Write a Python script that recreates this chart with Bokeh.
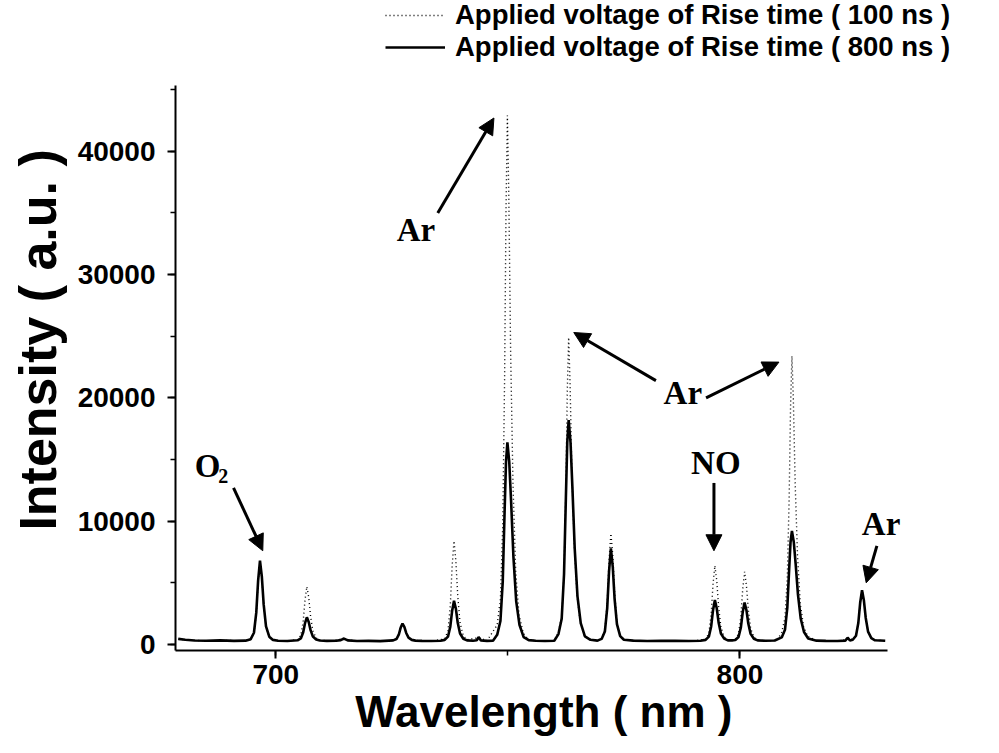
from bokeh.plotting import figure
from bokeh.models import (Range1d, SingleIntervalTicker, Label, Arrow, NormalHead,
                          Legend, LegendItem)
from bokeh.embed import file_html
from bokeh.resources import INLINE

# ---- data: (wavelength nm, intensity a.u.) ----
spec_800 = [
    (679.0, 450), (680.5, 380), (682.5, 320), (685.0, 300), (688.0, 330), (691.0, 290),
    (693.5, 310), (694.6, 430), (695.3, 950), (695.8, 2580), (696.2, 5180), (696.6, 6800),
    (697.0, 5500), (697.4, 3230), (697.9, 1470), (698.6, 630), (699.4, 370), (700.5, 300),
    (702.5, 280), (704.7, 340), (705.4, 490), (705.9, 970), (706.3, 1730), (706.7, 2200),
    (707.1, 1820), (707.5, 1160), (708.0, 640), (708.7, 400), (709.5, 320), (711.0, 290),
    (713.0, 300), (714.0, 350), (714.7, 480), (715.5, 330), (717.5, 280), (720.0, 290),
    (722.5, 270), (725.3, 330), (726.0, 440), (726.5, 790), (726.9, 1350), (727.3, 1700),
    (727.7, 1420), (728.1, 930), (728.6, 550), (729.3, 370), (730.1, 310), (731.5, 290),
    (733.5, 280), (735.5, 300), (736.4, 370), (737.1, 630), (737.6, 1440), (738.0, 2740),
    (738.4, 3550), (738.8, 2900), (739.2, 1760), (739.7, 890), (740.4, 460), (741.2, 330),
    (742.5, 300), (743.3, 340), (743.7, 600), (744.2, 330), (745.5, 290), (746.8, 310),
    (747.7, 780), (748.4, 1900), (748.9, 5100), (749.3, 10800), (749.6, 14800), (749.9, 16400),
    (750.3, 14800), (750.7, 11600), (751.2, 7100), (751.8, 3500), (752.5, 1600), (753.4, 600),
    (754.5, 350), (756.0, 300), (758.0, 280), (760.0, 300), (760.9, 840), (761.6, 2090),
    (762.1, 5670), (762.5, 11900), (762.8, 16400), (763.1, 18200), (763.5, 16400), (763.9, 12800),
    (764.4, 7800), (765.0, 3900), (765.7, 1730), (766.6, 660), (767.8, 380), (769.3, 310),
    (770.2, 450), (770.9, 1050), (771.4, 2930), (771.8, 5930), (772.2, 7800), (772.6, 6300),
    (773.0, 3680), (773.5, 1650), (774.2, 680), (775.0, 380), (777.0, 310), (780.0, 280),
    (783.0, 300), (786.0, 290), (789.0, 280), (791.5, 300), (792.6, 370), (793.3, 630),
    (793.8, 1460), (794.2, 2780), (794.6, 3600), (795.0, 2940), (795.4, 1790), (795.9, 890),
    (796.6, 470), (797.4, 330), (798.3, 330), (799.0, 360), (799.7, 610), (800.2, 1390),
    (800.6, 2630), (801.0, 3400), (801.4, 2780), (801.8, 1700), (802.3, 860), (803.0, 460),
    (803.8, 330), (805.5, 300), (807.5, 320), (809.0, 570), (809.7, 1190), (810.2, 2970),
    (810.6, 6090), (810.9, 8310), (811.2, 9200), (811.6, 8310), (812.0, 6530), (812.5, 4040),
    (813.1, 2080), (813.8, 1010), (814.7, 480), (816.5, 310), (818.5, 290), (821.0, 280),
    (822.7, 310), (823.2, 550), (823.7, 320), (824.3, 380), (825.0, 710), (825.5, 1740),
    (825.9, 3380), (826.3, 4400), (826.7, 3580), (827.1, 2150), (827.6, 1040), (828.3, 510),
    (829.1, 340), (830.2, 320), (831.3, 300),
]

spec_100 = [
    (679.0, 430), (681.0, 360), (684.0, 310), (687.0, 300), (690.0, 320), (693.0, 300),
    (694.6, 420), (695.3, 920), (695.8, 2500), (696.2, 5100), (696.6, 6700), (697.0, 5400),
    (697.4, 3150), (697.9, 1420), (698.6, 600), (699.4, 360), (701.0, 290), (703.0, 300),
    (704.7, 390), (705.4, 740), (705.9, 1840), (706.3, 3600), (706.7, 4700), (707.1, 3820),
    (707.5, 2280), (708.0, 1090), (708.7, 520), (709.5, 340), (712.0, 300), (714.7, 460),
    (717.0, 290), (721.0, 300), (724.0, 280), (725.3, 340), (726.0, 450), (726.5, 800),
    (726.9, 1380), (727.3, 1750), (727.7, 1450), (728.1, 950), (728.6, 560), (729.3, 370),
    (731.0, 300), (734.0, 290), (736.4, 460), (737.1, 1110), (737.6, 3140), (738.0, 6380),
    (738.4, 8400), (738.8, 6780), (739.2, 3950), (739.7, 1760), (740.4, 710), (741.2, 380),
    (743.7, 550), (745.5, 300), (747.7, 1580), (748.4, 3710), (748.9, 9670), (749.3, 21600),
    (749.6, 35200), (749.9, 42900), (750.2, 36500), (750.6, 23700), (751.1, 13100), (751.7, 5840),
    (752.4, 2430), (753.3, 940), (754.5, 350), (757.0, 290), (760.0, 300), (760.9, 1040),
    (761.6, 2270), (762.1, 5710), (762.5, 12600), (762.8, 20500), (763.1, 24900), (763.4, 21200),
    (763.8, 13800), (764.3, 8200), (764.9, 4000), (765.6, 1800), (766.5, 670), (768.0, 370),
    (769.5, 320), (770.2, 470), (770.9, 1170), (771.4, 3350), (771.8, 6830), (772.2, 9000),
    (772.6, 7260), (773.0, 4220), (773.5, 1870), (774.2, 740), (775.0, 390), (778.0, 300),
    (782.0, 290), (786.0, 300), (790.0, 290), (792.6, 420), (793.3, 910), (793.8, 2440),
    (794.2, 4880), (794.6, 6400), (795.0, 5180), (795.4, 3050), (795.9, 1400), (796.6, 610),
    (797.4, 360), (798.3, 340), (799.0, 410), (799.7, 860), (800.2, 2260), (800.6, 4500),
    (801.0, 5900), (801.4, 4780), (801.8, 2820), (802.3, 1310), (803.0, 580), (803.8, 360),
    (806.0, 300), (808.0, 330), (809.0, 990), (809.7, 2150), (810.2, 5380), (810.6, 11850),
    (810.9, 19240), (811.2, 23400), (811.5, 19900), (811.9, 13000), (812.4, 7230), (813.0, 3300),
    (813.7, 1460), (814.6, 650), (816.5, 320), (819.0, 290), (822.0, 300), (823.2, 500),
    (824.3, 390), (825.0, 720), (825.5, 1760), (825.9, 3400), (826.3, 4450), (826.7, 3600),
    (827.1, 2170), (827.6, 1060), (828.3, 520), (829.1, 350), (830.5, 310), (831.3, 300),
]

wl_800 = [p[0] for p in spec_800]
int_800 = [p[1] for p in spec_800]
wl_100 = [p[0] for p in spec_100]
int_100 = [p[1] for p in spec_100]

series_labels = ["Applied voltage of Rise time ( 100 ns )",
                 "Applied voltage of Rise time ( 800 ns )"]

x_axis_span = (678.4, 831.8)
y_axis_span = (-490, 45300)

# annotations: (text, wavelength, intensity)
ann_texts = [("Ar", 730.2, 33600), ("Ar", 787.7, 20400), ("NO", 794.8, 14700),
             ("Ar", 830.4, 9800), ("O", 685.3, 14500)]
# arrows: (x_start, y_start, x_end, y_end)
ann_arrows = [(734.9, 35000, 747.0, 42700), (781.9, 21400, 764.2, 25300),
              (792.7, 20000, 808.4, 22900), (794.4, 13100, 794.4, 7600),
              (829.5, 8000, 827.2, 5000), (690.9, 12700, 697.2, 7600)]

SANS = "Liberation Sans"
SERIF = "Liberation Serif"
NB = "\u00a0"  # padding so the axis titles sit where the reference centres them

p = figure(width=990, height=748, output_backend="svg", toolbar_location=None,
           x_range=Range1d(678.4, 852.9), y_range=Range1d(-490, 52230),
           min_border_left=175, min_border_right=5, min_border_top=0,
           min_border_bottom=98)
p.outline_line_color = None
p.grid.visible = False

r100 = p.line(wl_100, int_100, line_color="black", line_width=1.4, line_dash="1 3")
r800 = p.line(wl_800, int_800, line_color="black", line_width=2.6)

xa = p.xaxis[0]
ya = p.yaxis[0]
xa.ticker = SingleIntervalTicker(interval=100, num_minor_ticks=2)
ya.ticker = SingleIntervalTicker(interval=10000, num_minor_ticks=2)
xa.bounds = x_axis_span
ya.bounds = y_axis_span
xa.axis_label = "Wavelength ( nm )" + NB * 6
ya.axis_label = "Intensity ( a.u. )" + NB * 2
for ax in (xa, ya):
    ax.axis_line_width = 2
    ax.axis_line_color = "black"
    ax.major_tick_line_width = 2
    ax.major_tick_out = 8
    ax.major_tick_in = 0
    ax.minor_tick_out = 5
    ax.minor_tick_in = 0
    ax.minor_tick_line_width = 1.5
    ax.major_label_text_font = SANS
    ax.major_label_text_font_style = "bold"
    ax.major_label_text_color = "black"
    ax.major_label_text_font_size = "28px"
    ax.axis_label_text_font = SANS
    ax.axis_label_text_font_style = "bold"
    ax.axis_label_text_color = "black"
xa.axis_label_text_font_size = "44px"
ya.axis_label_text_font_size = "52px"
xa.major_label_standoff = 6
ya.major_label_standoff = 12
xa.axis_label_standoff = 0
ya.axis_label_standoff = 8

for txt, xx, yy in ann_texts:
    p.add_layout(Label(x=xx, y=yy, text=txt, text_font=SERIF, text_font_style="bold",
                       text_font_size="33px", text_align="center", text_baseline="middle",
                       text_color="black"))
p.add_layout(Label(x=688.7, y=13700, text="2", text_font=SERIF, text_font_style="bold",
                   text_font_size="20px", text_align="center", text_baseline="middle",
                   text_color="black"))
for xs, ys, xe, ye in ann_arrows:
    p.add_layout(Arrow(x_start=xs, y_start=ys, x_end=xe, y_end=ye, line_width=3,
                       line_color="black",
                       end=NormalHead(size=16, fill_color="black", line_color="black")))

legend = Legend(items=[LegendItem(label=series_labels[0], renderers=[r100]),
                       LegendItem(label=series_labels[1], renderers=[r800])],
                location=(210, 587), orientation="vertical",
                label_text_font=SANS, label_text_font_style="bold",
                label_text_font_size="27.5px", label_text_color="black",
                glyph_width=60, glyph_height=28, label_height=28, label_standoff=10,
                spacing=0, padding=0, margin=0,
                border_line_color=None, background_fill_alpha=0)
p.add_layout(legend, "center")

open("out.html", "w").write(file_html(p, INLINE))
